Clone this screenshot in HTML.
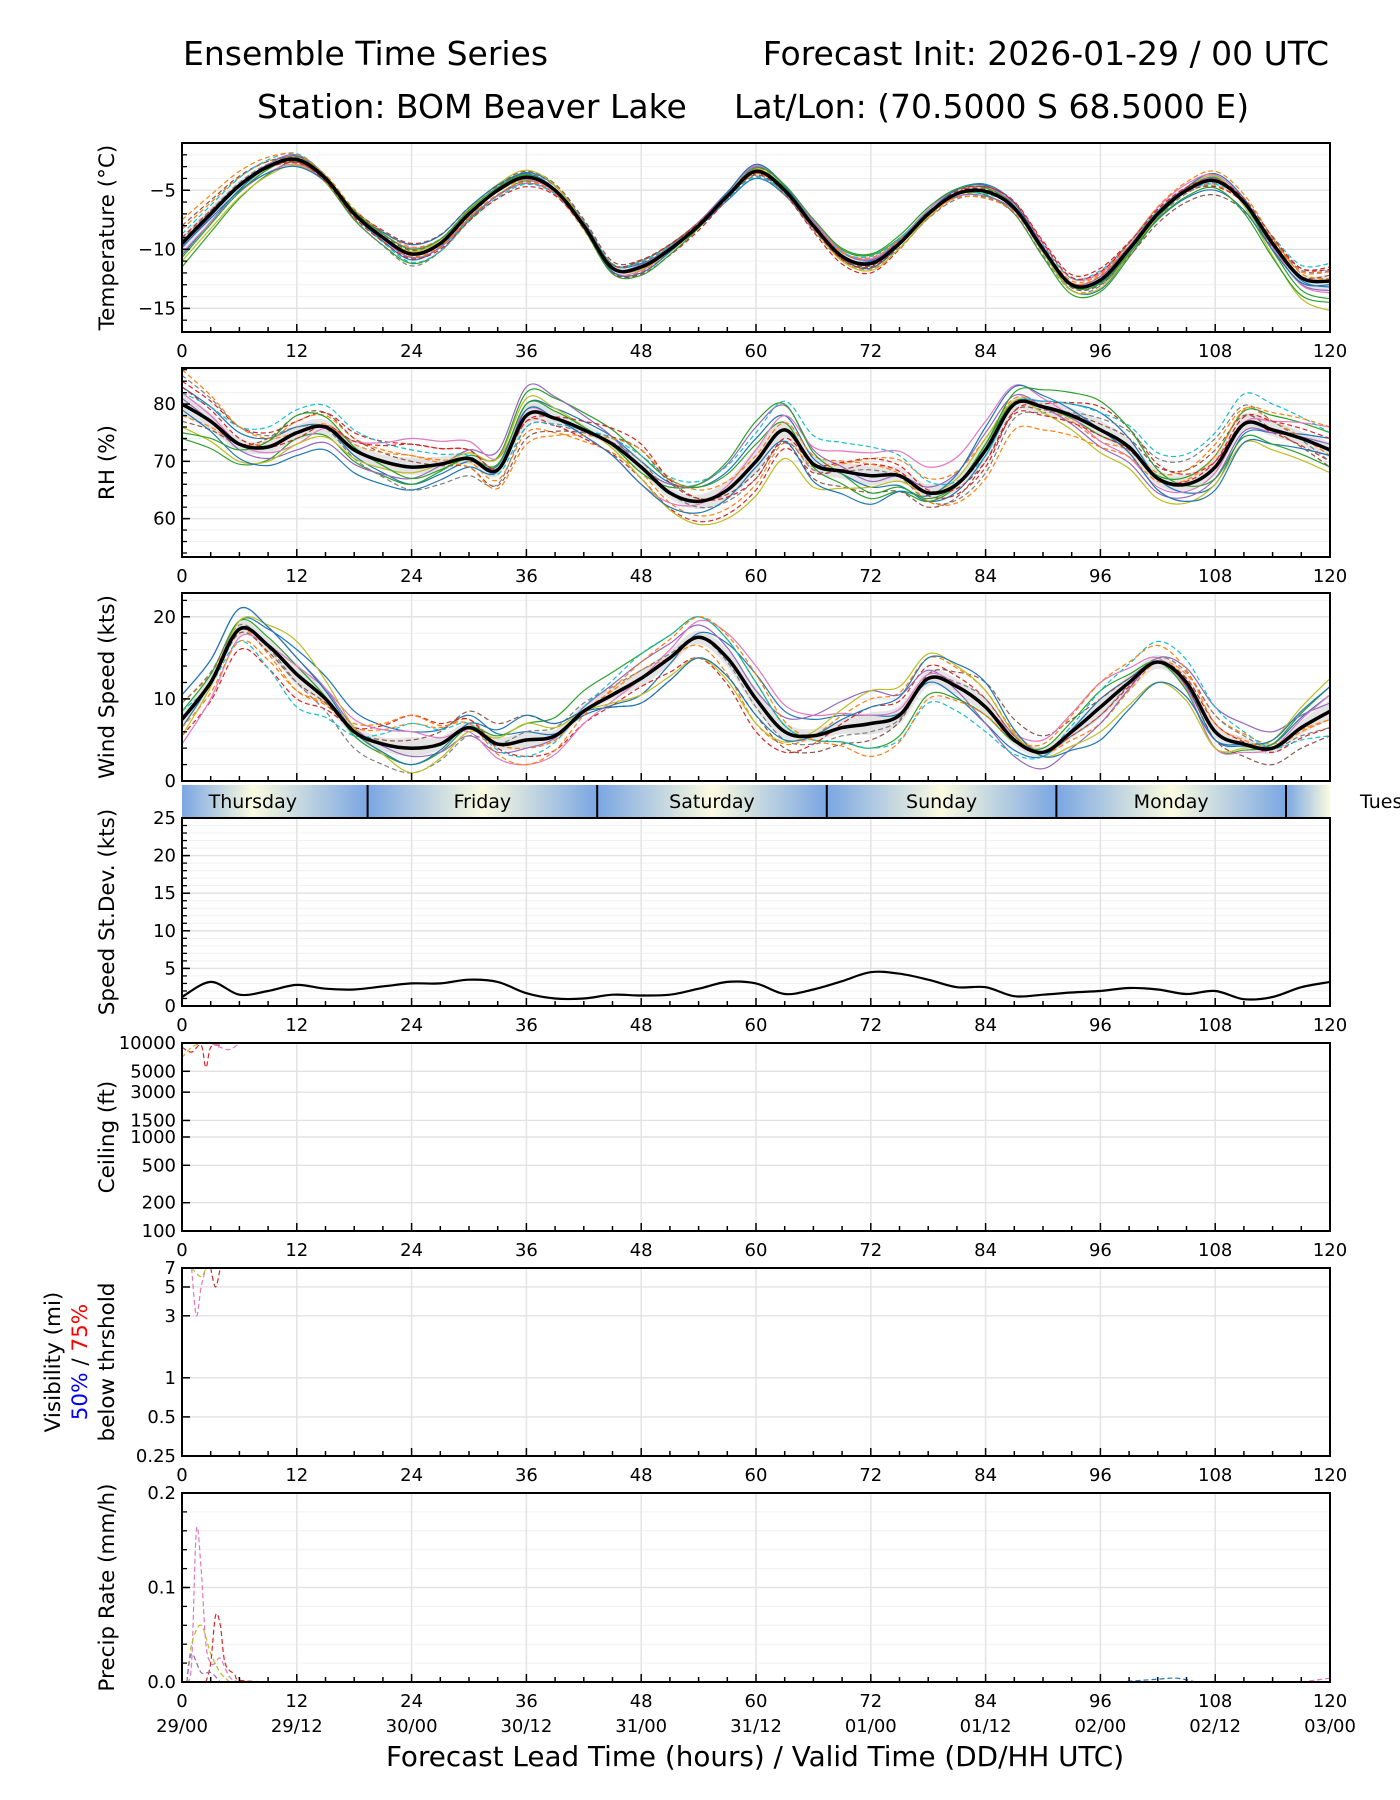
<!DOCTYPE html>
<html><head><meta charset="utf-8">
<style>
html,body{margin:0;padding:0;background:#fff;width:1400px;height:1800px;overflow:hidden}
svg{display:block;font-family:"DejaVu Sans","Liberation Sans",sans-serif}
</style></head>
<body>
<svg id="fig" width="1400" height="1800" viewBox="0 0 1400 1800" xmlns="http://www.w3.org/2000/svg">
<defs>
<linearGradient id="dayGrad" gradientUnits="userSpaceOnUse" x1="182" x2="1330" y1="0" y2="0"></linearGradient>
</defs>
<g font-size="33" fill="#000">
<text x="183" y="65">Ensemble Time Series</text>
<text x="1329" y="65" text-anchor="end">Forecast Init: 2026-01-29 / 00 UTC</text>
<text x="257" y="118">Station: BOM Beaver Lake</text>
<text x="734" y="118">Lat/Lon: (70.5000 S 68.5000 E)</text>
</g>
<text x="755" y="1766" font-size="27.8" text-anchor="middle">Forecast Lead Time (hours) / Valid Time (DD/HH UTC)</text>
<g id="plots"></g>
</svg>
<script>
// ---------- data ----------
const hours3 = [0,3,6,9,12,15,18,21,24,27,30,33,36,39,42,45,48,51,54,57,60,63,66,69,72,75,78,81,84,87,90,93,96,99,102,105,108,111,114,117,120];
const tempMean = [-9.5,-7,-4.6,-3,-2.4,-4,-7,-9,-10.4,-9.5,-7,-5,-3.9,-5,-8,-11.6,-11.5,-10,-8,-5.5,-3.4,-5,-8,-10.6,-11.2,-9.5,-7,-5.3,-5.1,-6.5,-10,-13,-12.6,-10,-7,-5,-4.2,-6,-9.5,-12.4,-12.7];
const rhMean = [80,77,73,72.5,75,76,72,70,69,69.5,70.5,68.5,78,77.5,75.5,73,69,64.5,63,65,70,75.5,69.5,68.3,67.5,67.5,64.5,66,72,80,79.5,78,75.5,72.5,67,66,69,76.5,75.5,74,72];
const windMean = [7.5,12,18.5,16.5,13,10,6,4.5,4,4.5,6.5,4.5,5,5.5,8.5,10.5,12.5,15,17.5,15,10,6,5.5,6.5,7,8,12.5,11.5,9,5,3.5,6,9,12,14.5,12,6,4.5,4,6.5,8.5];
const sdMean = [1.2,3.2,1.5,2,2.8,2.3,2.2,2.6,3.0,3.0,3.5,3.2,1.7,1.0,1.0,1.5,1.4,1.5,2.3,3.2,3.0,1.6,2.2,3.3,4.5,4.3,3.5,2.5,2.5,1.3,1.5,1.8,2.0,2.4,2.2,1.6,2.0,0.9,1.2,2.5,3.2];
// member offsets at 12-h steps (0..120)
const hours12 = [0,12,24,36,48,60,72,84,96,108,120];
const tempOff = [
 [-1,0.3,-0.5,0.4,0.3,-0.6,0.2,0.5,-0.8,0.6,-0.5],
 [1.2,0.2,0.6,-0.3,-0.4,0.3,-0.5,-0.2,0.5,-0.4,0.8],
 [-2,-0.2,-0.8,-0.3,0.5,0.1,0.7,-0.3,-1,0.3,-1.5],
 [0.5,-0.3,0.9,0.2,-0.6,-0.2,-0.8,0.4,1.0,-0.5,1.2],
 [-0.4,0.4,-0.3,-0.5,0.2,0.4,0.3,-0.4,0.3,0.2,-0.8],
 [1.5,0.1,0.3,0.5,0.6,-0.3,-0.2,0.2,-0.4,-1.2,0.5],
 [-0.8,-0.4,0.5,-0.2,-0.3,0.5,0.4,0.3,0.6,0.5,-1.0],
 [0.3,0.2,-1.0,0.3,0.4,-0.4,-0.3,-0.5,-0.5,-0.2,0.9],
 [-1.5,-0.5,0.2,0.6,-0.2,0.2,-0.6,0.1,-0.7,0.4,-2.5],
 [0.8,0.5,-0.7,-0.6,0.5,-0.5,0.6,-0.2,0.8,-0.3,1.5],
 [-0.3,-0.6,0.8,0.3,-0.5,0.6,-0.4,0.6,-0.2,-0.8,-0.3],
 [2.0,0.4,-0.2,-0.4,0.1,-0.2,0.5,-0.6,0.4,0.8,0.2],
 [-1.2,0.1,0.4,0.2,-0.7,0.3,0.8,0.3,-0.3,-0.6,-1.8],
 [0.1,-0.2,-0.4,-0.8,0.6,-0.1,-0.3,0.4,0.7,0.1,1.0]];
const rhOff = [
 [3,1,-3,2,1,4,-2,-1,3,-3,2],
 [-2,2,2,-3,-1,-4,3,2,-2,4,-1],
 [-6,-1,-3,4,2,3,-4,1,-1,2,3],
 [4,2,4,-1,-2,-5,2,-3,4,1,-2],
 [1,-3,-2,5,0,6,-1,3,-3,-2,1],
 [-3,3,1,-4,3,-2,-3,-2,1,3,-3],
 [2,-2,5,1,-3,2,4,5,-2,-1,4],
 [5,1,-4,-2,1,-3,1,-4,2,5,-2],
 [-4,-2,-1,3,-2,-6,-2,2,-4,-3,-4],
 [2,4,3,-2,2,5,5,-1,3,6,3],
 [-1,-4,-4,1,-3,-1,-5,4,0,-4,-1],
 [6,0,2,-5,3,1,2,-5,-3,2,4],
 [-5,3,-2,2,-1,7,-3,1,5,-2,-3],
 [3,-1,4,-1,4,-3,3,-2,-1,1,2]];
const windOff = [
 [-1,3,2,1,-2,3,1,-2,1,-1,2],
 [2,-2,3,-1,1,-3,3,2,-2,2,-1],
 [1,1,-2,2,3,2,-3,-1,2,-2,3],
 [-2,-3,4,-2,-1,-4,2,1,-1,1,-2],
 [3,2,-1,-1,2,1,4,-2,-2,3,1],
 [0,-1,1,3,-3,-2,-2,3,1,-1,-3],
 [-3,1,2,-3,0,4,1,0,3,-2,2],
 [2,-1,-3,1,1,-1,-1,1,-1,2,-2],
 [-2,4,-3,2,-2,-3,4,2,-3,-2,4],
 [1,-4,3,-2,3,2,-3,-3,2,3,-3],
 [3,2,-2,3,-3,-2,2,3,-4,-1,3],
 [-1,-2,4,-3,2,3,-4,-1,3,1,-1]];
const memberColors = ["#1f77b4","#ff7f0e","#2ca02c","#d62728","#9467bd","#8c564b","#e377c2","#7f7f7f","#bcbd22","#17becf"];
const ceilHours = [[0,1,2,2.5,3,4],[0,1,2],[3,4,5,6]];
const ceilVals  = [[9000,8000,9500,5500,9000,9500],[7000,9000,10000],[10000,9000,8500,10000]];
const visHours = [[1,1.5,2,2.5],[3,3.5,4],[1,2,2.5]];
const visVals  = [[7,3,5,7],[7,5,7],[7,6,7]];
const precHours = [[0.5,1,1.5,2,2.5,3,3.5,4,5,6],[0.5,1,2,3,4,5],[2.5,3,3.5,4,4.5,5.5,6,9],[0.5,1,2,3,4],[98,102,104,106],[117,120]];
const precVals  = [[0,0.02,0.16,0.12,0.04,0.02,0.02,0.025,0.005,0],[0,0.04,0.06,0.03,0.01,0],[0,0.02,0.07,0.06,0.02,0.008,0.002,0],[0,0.03,0.01,0.01,0],[0,0.003,0.004,0],[0,0.004]];
const precColors = ["#e377c2","#bcbd22","#d62728","#9467bd","#1f77b4","#e377c2"];
const xTicks = [0,12,24,36,48,60,72,84,96,108,120];
const dateLabels = ["29/00","29/12","30/00","30/12","31/00","31/12","01/00","01/12","02/00","02/12","03/00"];
const dayNames = ["Thursday","Friday","Saturday","Sunday","Monday","Tues"];
const dayStart = 19.4;

// ---------- helpers ----------
const NS = "http://www.w3.org/2000/svg";
const root = document.getElementById("plots");
const L = 182, R = 1330;
const xs = h => L + (h/120)*(R-L);
function el(tag, attrs, parent){
  const e = document.createElementNS(NS, tag);
  for (const k in attrs) e.setAttribute(k, attrs[k]);
  (parent||root).appendChild(e);
  return e;
}
function smoothPath(pts){
  if (pts.length<2) return "";
  let d = "M"+pts[0][0].toFixed(1)+","+pts[0][1].toFixed(1);
  for (let i=0;i<pts.length-1;i++){
    const p0=pts[i-1]||pts[i], p1=pts[i], p2=pts[i+1], p3=pts[i+2]||p2;
    const c1=[p1[0]+(p2[0]-p0[0])/6, p1[1]+(p2[1]-p0[1])/6];
    const c2=[p2[0]-(p3[0]-p1[0])/6, p2[1]-(p3[1]-p1[1])/6];
    d += " C"+c1[0].toFixed(1)+","+c1[1].toFixed(1)+" "+c2[0].toFixed(1)+","+c2[1].toFixed(1)+" "+p2[0].toFixed(1)+","+p2[1].toFixed(1);
  }
  return d;
}
function offAt(off, h){
  const i = Math.min(9, Math.floor(h/12)); const t = (h - hours12[i])/12;
  return off[i]*(1-t)+off[i+1]*t;
}
function panel(name, top, bot, ys, majors, minors, labelFmt, ylabelLines, showX){
  const g = el("g", {});
  
  
  minors.forEach(v=>{ const y=ys(v); if(y>top+0.5&&y<bot-0.5) el("line",{x1:L,x2:R,y1:y,y2:y,stroke:"#f0f0f0","stroke-width":1},g); });
  majors.forEach(v=>{ const y=ys(v); if(y>top+0.5&&y<bot-0.5) el("line",{x1:L,x2:R,y1:y,y2:y,stroke:"#e2e2e2","stroke-width":1.4},g); });
  xTicks.forEach(h=>{ if(h>0&&h<120) el("line",{x1:xs(h),x2:xs(h),y1:top,y2:bot,stroke:"#e2e2e2","stroke-width":1.4},g); });
  const data = el("g",{"clip-path":"url(#clip-"+name+")"},g);
  const cp = el("clipPath",{id:"clip-"+name}, document.querySelector("defs"));
  el("rect",{x:L,y:top,width:R-L,height:bot-top},cp);
  const ax = el("g",{},g);
  
  
  for (let h=0; h<=120; h+=3){
    const big = h%12===0;
    el("line",{x1:xs(h),x2:xs(h),y1:bot,y2:bot-(big?8:5),stroke:"#000","stroke-width":1.5},ax);
  }
  minors.forEach(v=>{ const y=ys(v); if(y>=top&&y<=bot) el("line",{x1:L,x2:L+5,y1:y,y2:y,stroke:"#000","stroke-width":1.3},ax); });
  majors.forEach(v=>{ const y=ys(v); if(y>=top-0.5&&y<=bot+0.5){
    el("line",{x1:L,x2:L+8,y1:y,y2:y,stroke:"#000","stroke-width":1.5},ax);
    const t = el("text",{x:L-6,y:y+6,"font-size":18,"text-anchor":"end"},ax);
    t.textContent = labelFmt(v);
    
    
  }});
  if (showX){
    xTicks.forEach(h=>{
      const t = el("text",{x:xs(h),y:bot+25,"font-size":18,"text-anchor":"middle"},ax);
      t.textContent = h;
      
      
    });
  }
  const cy = (top+bot)/2;
  const n = ylabelLines.length;
  ylabelLines.forEach((ln,i)=>{
    const x = (n>1 ? 80 : 107) - (n-1)*13.5 + i*27;
    const t = el("text",{x:x,y:cy,"font-size":21.5,"text-anchor":"middle",transform:"rotate(-90 "+x+" "+cy+")",dy:"7"},g);
    
    
    if (typeof ln === "string") t.textContent = ln;
    else ln.forEach(seg=>{ const s=el("tspan",{fill:seg[1]},t); s.textContent=seg[0]; });
  });
  return {g, data, top, bot, frame:()=>el("rect",{x:L,y:top,width:R-L,height:bot-top,fill:"none",stroke:"#000","stroke-width":2},g)};
}
function range(a,b,s){ const r=[]; for(let v=a; v<=b+1e-9; v+=s) r.push(+v.toFixed(4)); return r; }

function ensemble(p, ys, mean, offs, floor){
  const members = offs.map(off => hours3.map((h,i)=>{ let v = mean[i] + offAt(off,h); if(floor!==undefined) v=Math.max(floor,v); return v; }));
  const lo = hours3.map((h,i)=>Math.min(...members.map(m=>m[i]), mean[i]));
  const hi = hours3.map((h,i)=>Math.max(...members.map(m=>m[i]), mean[i]));
  const loS = hours3.map((h,i)=>(mean[i]*2+lo[i])/3);
  const hiS = hours3.map((h,i)=>(mean[i]*2+hi[i])/3);
  const bandPts = hours3.map((h,i)=>[xs(h),ys(hiS[i])]);
  const loPts = hours3.map((h,i)=>[xs(h),ys(loS[i])]).reverse();
  const band = el("path",{d: smoothPath(bandPts)+" L"+smoothPath(loPts).slice(1)+" Z", fill:"#d9d9d9", "fill-opacity":0.7, stroke:"none"}, p.data);
  
  
  members.forEach((m,k)=>{
    const path = el("path",{d:smoothPath(hours3.map((h,i)=>[xs(h),ys(m[i])])), fill:"none", stroke:memberColors[k%10], "stroke-width":1.2, "stroke-dasharray": k%2 ? "5,3" : "none"}, p.data);
    
    
  });
  const ml = el("path",{d:smoothPath(hours3.map((h,i)=>[xs(h),ys(mean[i])])), fill:"none", stroke:"#000", "stroke-width":3.5}, p.data);
  
  
}

// ---------- temperature ----------
{
  const top=143, bot=332, lo=-17, hi=-1;
  const ys = v => bot - (v-lo)/(hi-lo)*(bot-top);
  const p = panel("temperature", top, bot, ys, [-5,-10,-15], range(-17,-1,1), v=>"\u2212"+Math.abs(v), ["Temperature (\u00b0C)"], true);
  ensemble(p, ys, tempMean, tempOff);
  p.frame();
}
// ---------- RH ----------
{
  const top=368, bot=557, lo=53.3, hi=86.3;
  const ys = v => bot - (v-lo)/(hi-lo)*(bot-top);
  const p = panel("rh", top, bot, ys, [60,70,80], range(54,86,2), v=>String(v), ["RH (%)"], true);
  ensemble(p, ys, rhMean, rhOff);
  p.frame();
}
// ---------- wind ----------
{
  const top=593, bot=781, lo=0, hi=22.9;
  const ys = v => bot - (v-lo)/(hi-lo)*(bot-top);
  const p = panel("wind", top, bot, ys, [0,10,20], range(0,22,2), v=>String(v), ["Wind Speed (kts)"], false);
  ensemble(p, ys, windMean, windOff, 0);
  p.frame();
}
// ---------- day band ----------
{
  const grad = document.getElementById("dayGrad");
  for (let h=dayStart-48; h<=150; h+=12){
    const isMid = Math.round((h-dayStart)/12)%2===0;
    const st = document.createElementNS(NS,"stop");
    st.setAttribute("offset", ((h/120)).toFixed(4));
    st.setAttribute("stop-color", isMid ? "#7aa6e3" : "#fbfbdf");
    grad.appendChild(st);
  }
  const top=785, bot=818;
  const g = el("g",{});
  
  
  el("rect",{x:L,y:top,width:R-L,height:bot-top,fill:"url(#dayGrad)"},g);
  for (let d=0; d<5; d++){
    const x = xs(dayStart + 24*d);
    el("line",{x1:x,x2:x,y1:top,y2:bot,stroke:"#000","stroke-width":2},g);
  }
  dayNames.forEach((nm,d)=>{
    const last = d===dayNames.length-1;
    const t = el("text",{x:last?1360:xs(dayStart-12+24*d),y:top+23,"font-size":19,"text-anchor":last?"start":"middle"},g);
    t.textContent = nm;
    
    
  });
}
// ---------- speed stdev ----------
{
  const top=818, bot=1006, lo=0, hi=25;
  const ys = v => bot - (v-lo)/(hi-lo)*(bot-top);
  const p = panel("speed-stdev", top, bot, ys, [0,5,10,15,20,25], range(0,25,1), v=>String(v), ["Speed St.Dev. (kts)"], true);
  const ml = el("path",{d:smoothPath(hours3.map((h,i)=>[xs(h),ys(sdMean[i])])), fill:"none", stroke:"#000", "stroke-width":2.2}, p.data);
  
  
  p.frame();
}
// ---------- ceiling ----------
{
  const top=1043, bot=1231, lo=Math.log10(100), hi=Math.log10(10000);
  const ys = v => bot - (Math.log10(v)-lo)/(hi-lo)*(bot-top);
  const p = panel("ceiling", top, bot, ys, [100,200,500,1000,1500,3000,5000,10000], [], v=>String(v), ["Ceiling (ft)"], true);
  ceilHours.forEach((hs,k)=>{
    const path = el("path",{d:smoothPath(hs.map((h,i)=>[xs(h),ys(ceilVals[k][i])])), fill:"none", stroke:["#d62728","#bcbd22","#e377c2"][k], "stroke-width":1.2, "stroke-dasharray":"5,3"}, p.data);
    
    
  });
  p.frame();
}
// ---------- visibility ----------
{
  const top=1268, bot=1456, lo=Math.log10(0.25), hi=Math.log10(7);
  const ys = v => bot - (Math.log10(v)-lo)/(hi-lo)*(bot-top);
  const p = panel("visibility", top, bot, ys, [0.25,0.5,1,3,5,7], [], v=>String(v), ["Visibility (mi)", [["50%","#0000ff"],[" / ","#000"],["75%","#ff0000"]], "below thrshold"], true);
  visHours.forEach((hs,k)=>{
    const path = el("path",{d:smoothPath(hs.map((h,i)=>[xs(h),ys(visVals[k][i])])), fill:"none", stroke:["#e377c2","#d62728","#bcbd22"][k], "stroke-width":1.2, "stroke-dasharray":"5,3"}, p.data);
    
    
  });
  p.frame();
}
// ---------- precip ----------
{
  const top=1493, bot=1682, lo=0, hi=0.2;
  const ys = v => bot - (v-lo)/(hi-lo)*(bot-top);
  const p = panel("precip", top, bot, ys, [0,0.1,0.2], range(0,0.2,0.02), v=>v.toFixed(1), ["Precip Rate (mm/h)"], true);
  precHours.forEach((hs,k)=>{
    const path = el("path",{d:smoothPath(hs.map((h,i)=>[xs(h),ys(precVals[k][i])])), fill:"none", stroke:precColors[k], "stroke-width":1.2, "stroke-dasharray":"5,3"}, p.data);
    
    
  });
  p.frame();
  xTicks.forEach((h,i)=>{
    const t = el("text",{x:xs(h),y:bot+50,"font-size":18,"text-anchor":"middle"});
    t.textContent = dateLabels[i];
    
    
  });
}
</script>
</body></html>
